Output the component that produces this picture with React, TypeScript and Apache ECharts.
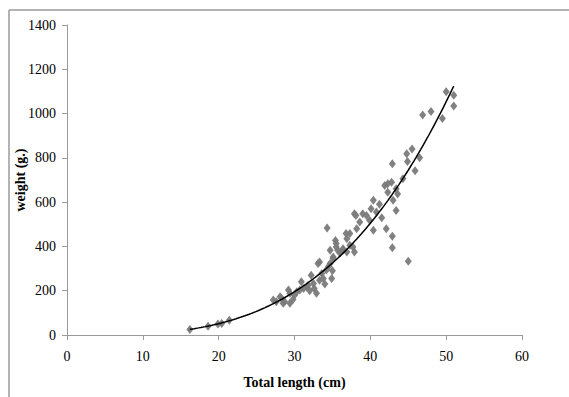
import React, { useEffect, useRef } from "react";
import * as echarts from "echarts";

// Total length (cm) of each fish sampled
const lengths: number[] = [
  16.2, 18.6, 19.9, 20.4, 21.4,
  27.2, 27.6, 28.1, 28.3, 28.5, 28.7, 29.2, 29.4, 29.4, 29.8, 30.0, 30.3, 30.7, 30.9, 31.2,
  31.6, 31.8, 32.0, 32.2, 32.5, 32.6, 32.9, 33.1, 33.3, 33.3, 33.6, 33.8, 34.0, 34.2, 34.3,
  34.5, 34.7, 34.7, 34.9, 35.0, 35.1, 35.1, 35.4, 35.5, 35.5, 35.7, 36.0, 36.4, 36.4, 36.8,
  36.9, 36.9, 37.3, 37.3, 37.7, 37.9, 37.9, 38.1, 38.2, 38.6, 39.0, 39.5, 39.9, 40.1, 40.4,
  40.4, 40.8, 41.2, 41.5, 41.9, 42.1, 42.3, 42.3, 42.8, 42.9, 42.9, 42.9, 43.0, 43.4, 43.4,
  43.6, 44.3, 44.8, 44.9, 45.0, 45.5, 45.9, 46.5, 46.9, 48.0, 49.5, 50.0, 51.0, 51.0,
];

// Body weight (g) of the same fish, in the same order
const weights: number[] = [
  25, 40, 50, 52, 67,
  158, 150, 173, 165, 143, 150, 203, 188, 143, 160, 180, 195, 203, 240, 210,
  217, 225, 200, 270, 233, 210, 188, 323, 247, 330, 278, 255, 230, 293, 483,
  310, 323, 383, 255, 290, 345, 352, 427, 413, 397, 383, 370, 390, 383, 458,
  435, 375, 405, 458, 397, 375, 548, 540, 480, 510, 548, 540, 518, 570, 608,
  473, 555, 590, 530, 675, 480, 683, 645, 690, 773, 446, 394, 608, 660, 562,
  637, 706, 818, 783, 333, 840, 742, 800, 993, 1009, 978, 1099, 1083, 1034,
];

const xTicks = [0, 10, 20, 30, 40, 50, 60];
const yTicks = [0, 200, 400, 600, 800, 1000, 1200, 1400];

// Power-law trend W = a·L^b, fitted by least squares on log-log values
function powerFit(xs: number[], ys: number[]) {
  const n = xs.length;
  let sx = 0, sy = 0, sxx = 0, sxy = 0;
  for (let i = 0; i < n; i++) {
    const lx = Math.log(xs[i]);
    const ly = Math.log(ys[i]);
    sx += lx; sy += ly; sxx += lx * lx; sxy += lx * ly;
  }
  const b = (n * sxy - sx * sy) / (n * sxx - sx * sx);
  const a = Math.exp((sy - b * sx) / n);
  return { a, b };
}

export default function App() {
  const ref = useRef<HTMLDivElement>(null);

  useEffect(() => {
    if (!ref.current) return;
    const chart = echarts.init(ref.current, undefined, { renderer: "svg" });

    const points = lengths.map((l, i) => [l, weights[i]]);
    const { a, b } = powerFit(lengths, weights);
    const lMin = Math.min(...lengths);
    const lMax = Math.max(...lengths);
    const trend: number[][] = [];
    const steps = 120;
    for (let i = 0; i <= steps; i++) {
      const l = lMin + ((lMax - lMin) * i) / steps;
      trend.push([l, a * Math.pow(l, b)]);
    }

    const axisFont = {
      fontFamily: "Liberation Serif",
      fontSize: 14,
      color: "#000",
      formatter: (v: number) => String(v),
    };

    const nameFont = {
      fontFamily: "Liberation Serif",
      fontWeight: "bold",
      fontSize: 14,
      color: "#000",
    };

    chart.setOption({
      animation: false,
      backgroundColor: "#fff",
      grid: {
        left: 67,
        right: 47,
        top: 25,
        bottom: 62,
        containLabel: false,
        outerBoundsMode: "none",
      },
      graphic: [
        {
          type: "line",
          shape: { x1: 9, y1: 10, x2: 569, y2: 10 },
          style: { stroke: "#9a9a9a", lineWidth: 1.5 },
        },
        {
          type: "line",
          shape: { x1: 9, y1: 10, x2: 9, y2: 397 },
          style: { stroke: "#9a9a9a", lineWidth: 1.5 },
        },
      ],
      xAxis: {
        type: "value",
        min: xTicks[0],
        max: xTicks[xTicks.length - 1],
        interval: 10,
        name: "Total length (cm)",
        nameLocation: "middle",
        nameGap: 40,
        nameMoveOverlap: false,
        nameTextStyle: nameFont,
        splitLine: { show: false },
        axisLine: { show: true, lineStyle: { color: "#9a9a9a", width: 1 } },
        axisTick: { show: true, length: 5, lineStyle: { color: "#9a9a9a" } },
        axisLabel: { ...axisFont, margin: 14 },
      },
      yAxis: {
        type: "value",
        min: yTicks[0],
        max: yTicks[yTicks.length - 1],
        interval: 200,
        name: "weight (g.)",
        nameLocation: "middle",
        nameGap: 40,
        nameMoveOverlap: false,
        nameRotate: 90,
        nameTextStyle: nameFont,
        splitLine: { show: false },
        axisLine: { show: true, lineStyle: { color: "#9a9a9a", width: 1 } },
        axisTick: { show: true, length: 5, lineStyle: { color: "#9a9a9a" } },
        axisLabel: { ...axisFont, margin: 11 },
      },
      series: [
        {
          type: "scatter",
          data: points,
          symbol: "diamond",
          symbolSize: [7, 9],
          itemStyle: { color: "#7a7a7a", opacity: 0.95 },
          z: 2,
        },
        {
          type: "line",
          data: trend,
          showSymbol: false,
          smooth: false,
          lineStyle: { color: "#000", width: 1.5 },
          z: 3,
        },
      ],
    });

    return () => chart.dispose();
  }, []);

  return (
    <div
      ref={ref}
      style={{ position: "fixed", left: 0, top: 0, width: 569, height: 397 }}
    />
  );
}
